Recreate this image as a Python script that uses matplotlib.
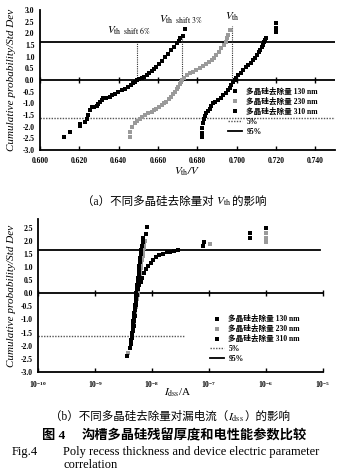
import matplotlib
matplotlib.use("Agg")
import matplotlib.pyplot as plt
from matplotlib.lines import Line2D
from matplotlib.ticker import FixedLocator, FormatStrFormatter, NullLocator

plt.rcParams['font.family'] = ['Liberation Serif', 'Noto Sans CJK SC']
plt.rcParams['mathtext.fontset'] = 'stix'

# ---- (a) Vth cumulative plot ----
vth_310_x = [0.6123, 0.6152, 0.6203, 0.6205, 0.6228, 0.6240, 0.6245, 0.6254, 0.6262, 0.6275,
             0.6288, 0.6297, 0.6305, 0.6313, 0.6321, 0.6338, 0.6355, 0.6368, 0.6380, 0.6398,
             0.6415, 0.6432, 0.6448, 0.6462, 0.6474, 0.6484, 0.6494, 0.6505, 0.6518, 0.6530,
             0.6542, 0.6555, 0.6568, 0.6580, 0.6592, 0.6605, 0.6620, 0.6635, 0.6650, 0.6668,
             0.6681, 0.6694, 0.6705, 0.6714, 0.6725, 0.6736]
vth_310_y = [-2.46, -2.22, -1.97, -1.90, -1.79, -1.65, -1.50, -1.29, -1.17, -1.15,
             -1.12, -1.02, -0.93, -0.86, -0.79, -0.76, -0.72, -0.66, -0.61, -0.52,
             -0.43, -0.37, -0.31, -0.22, -0.14, -0.07, 0.00, 0.05, 0.10, 0.15,
             0.21, 0.30, 0.40, 0.48, 0.57, 0.68, 0.82, 1.00, 1.12, 1.29,
             1.42, 1.57, 1.68, 1.79, 1.89, 2.17]

vth_230_x = [0.6457, 0.6460, 0.6470, 0.6482, 0.6495, 0.6508, 0.6520, 0.6533, 0.6550, 0.6567,
             0.6580, 0.6592, 0.6605, 0.6618, 0.6630, 0.6643, 0.6655, 0.6668, 0.6677, 0.6685,
             0.6694, 0.6702, 0.6710, 0.6719, 0.6723, 0.6734, 0.6745, 0.6762, 0.6778, 0.6795,
             0.6812, 0.6829, 0.6846, 0.6859, 0.6872, 0.6885, 0.6897, 0.6910, 0.6922, 0.6933,
             0.6944, 0.6950, 0.6956, 0.6965]
vth_230_y = [-2.43, -2.22, -2.00, -1.86, -1.75, -1.65, -1.57, -1.50, -1.43, -1.36,
             -1.29, -1.22, -1.15, -1.07, -1.00, -0.93, -0.83, -0.72, -0.61, -0.50,
             -0.40, -0.31, -0.19, -0.07, 0.00, 0.10, 0.21, 0.28, 0.36, 0.43,
             0.50, 0.60, 0.69, 0.78, 0.86, 0.96, 1.07, 1.21, 1.36, 1.50,
             1.65, 1.79, 1.93, 2.15]

vth_130_x = [0.6821, 0.6824, 0.6826, 0.6829, 0.6834, 0.6840, 0.6846, 0.6855, 0.6863, 0.6871,
             0.6880, 0.6892, 0.6905, 0.6918, 0.6931, 0.6944, 0.6956, 0.6965, 0.6973, 0.6982,
             0.6990, 0.6998, 0.7007, 0.7020, 0.7032, 0.7045, 0.7058, 0.7070, 0.7083, 0.7093,
             0.7103, 0.7112, 0.7120, 0.7127, 0.7134, 0.7138, 0.7142, 0.7147, 0.7202, 0.7202,
             0.7202]
vth_130_y = [-2.46, -2.25, -2.07, -1.86, -1.65, -1.54, -1.43, -1.33, -1.22, -1.11,
             -1.00, -0.93, -0.86, -0.75, -0.64, -0.54, -0.43, -0.32, -0.21, -0.10,
             0.00, 0.10, 0.21, 0.32, 0.43, 0.54, 0.64, 0.75, 0.86, 0.96,
             1.07, 1.18, 1.29, 1.40, 1.50, 1.61, 1.72, 1.80, 2.07, 2.22,
             2.46]

vth_cross = [0.6493, 0.6722, 0.6975]
vth_cross_top = [1.645, 1.90, 2.30]
vth_labels = [r'$V_{\rm th\ \ shift\ 6\%}$', r'$V_{\rm th\ \ shift\ 3\%}$', r'$V_{\rm th}$']
vth_label_x = [0.634, 0.6605, 0.6942]
vth_label_y = [2.12, 2.58, 2.72]

a_xticks = [0.600, 0.620, 0.640, 0.660, 0.680, 0.700, 0.720, 0.740]
yticks = [-3.0, -2.5, -2.0, -1.5, -1.0, -0.5, 0.0, 0.5, 1.0, 1.5, 2.0, 2.5, 3.0]

# ---- (b) Idss cumulative plot ----
idss_130_x = [3.62e-9, 4.09e-9, 4.26e-9, 4.30e-9, 4.40e-9, 4.45e-9, 4.55e-9, 4.62e-9, 4.70e-9, 4.81e-9,
              4.90e-9, 5.00e-9, 5.08e-9, 5.15e-9, 5.21e-9, 5.30e-9, 5.40e-9, 5.50e-9, 5.60e-9, 5.70e-9,
              5.80e-9, 5.90e-9, 6.00e-9, 6.12e-9, 6.25e-9, 6.38e-9, 6.50e-9, 6.64e-9, 6.80e-9, 7.00e-9,
              7.80e-9, 8.00e-9, 9.9e-7]
idss_130_y = [-2.40, -2.08, -1.95, -1.80, -1.65, -1.50, -1.35, -1.20, -1.05, -0.90,
              -0.75, -0.60, -0.45, -0.30, -0.15, 0.00, 0.15, 0.30, 0.45, 0.60,
              0.75, 0.90, 1.05, 1.20, 1.35, 1.50, 1.65, 1.80, 1.95, 2.10,
              2.26, 2.55, 2.51]

idss_230_x = [3.85e-9, 4.20e-9, 4.40e-9, 4.50e-9, 4.62e-9, 4.70e-9, 4.81e-9, 4.90e-9, 5.00e-9, 5.10e-9,
              5.21e-9, 5.30e-9, 5.43e-9, 5.55e-9, 5.65e-9, 5.75e-9, 5.89e-9, 6.00e-9, 6.12e-9, 6.25e-9,
              6.38e-9, 6.50e-9, 6.64e-9, 6.80e-9, 6.92e-9, 7.10e-9, 7.21e-9, 7.50e-9, 1.04e-7, 9.9e-7,
              9.9e-7, 9.9e-7]
idss_230_y = [-2.30, -1.90, -1.72, -1.58, -1.42, -1.28, -1.12, -0.98, -0.82, -0.68,
              -0.52, -0.38, -0.22, -0.08, 0.08, 0.22, 0.38, 0.52, 0.68, 0.82,
              0.98, 1.12, 1.28, 1.42, 1.58, 1.72, 1.88, 2.02, 1.88, 2.30,
              2.13, 1.98]

idss_310_x = [4.09e-9, 4.43e-9, 4.62e-9, 4.75e-9, 4.85e-9, 4.95e-9, 5.05e-9, 5.15e-9, 5.30e-9, 5.43e-9,
              5.60e-9, 5.90e-9, 6.30e-9, 6.70e-9, 7.10e-9, 7.70e-9, 8.50e-9, 9.40e-9, 1.05e-8, 1.18e-8,
              1.35e-8, 1.57e-8, 1.80e-8, 2.10e-8, 2.40e-8, 2.90e-8, 8.0e-8, 8.3e-8, 5.2e-7, 5.2e-7]
idss_310_y = [-2.08, -1.70, -1.45, -1.25, -1.05, -0.85, -0.65, -0.45, -0.25, -0.05,
              0.15, 0.30, 0.45, 0.60, 0.78, 0.92, 1.05, 1.18, 1.28, 1.38,
              1.45, 1.52, 1.57, 1.60, 1.63, 1.66, 1.82, 1.95, 2.11, 2.30]

b_xticks = [1e-10, 1e-9, 1e-8, 1e-7, 1e-6, 1e-5]

legend_labels = ['多晶硅去除量 130 nm', '多晶硅去除量 230 nm', '多晶硅去除量 310 nm', '5%', '95%']
z95 = 1.645
z05 = -1.645

gray = '#9a9a9a'
ms = 2.9

fig = plt.figure(figsize=(3.4, 4.75), dpi=100)


def style_axes(ax, xticks):
    for s in ['top', 'right']:
        ax.spines[s].set_visible(False)
    for s in ['left', 'bottom']:
        ax.spines[s].set_linewidth(1.3)
    ax.yaxis.set_major_locator(FixedLocator(yticks))
    ax.yaxis.set_major_formatter(FormatStrFormatter('%.1f'))
    ax.tick_params(axis='y', length=0, pad=4, labelsize=5.5)
    ax.tick_params(axis='x', direction='in', length=3, width=1, pad=5, labelsize=5.5)
    for lab in ax.get_yticklabels() + ax.get_xticklabels():
        lab.set_fontweight('bold')
    ax.plot(xticks, [0] * len(xticks), ls='none', marker='|', ms=4, mew=1, color='black',
            clip_on=False, zorder=4)


# ---------- panel (a) ----------
ax1 = fig.add_axes([0.1176, 0.684, 0.868, 0.295])
ax1.set_xlim(0.600, 0.750)
ax1.set_ylim(-3.0, 3.0)
ax1.xaxis.set_major_locator(FixedLocator(a_xticks))
ax1.xaxis.set_major_formatter(FormatStrFormatter('%.3f'))

ax1.axhline(0, color='black', lw=1.3, zorder=2)
ax1.axhline(z95, color='black', lw=1.3, zorder=2)
ax1.axhline(z05, color='#555555', lw=1.0, ls=(0, (1, 1)), zorder=2)
for xc, yt in zip(vth_cross, vth_cross_top):
    ax1.plot([xc, xc], [0, yt], color='#333333', lw=0.8, ls=(0, (1, 1)), zorder=2)

ax1.plot(vth_130_x, vth_130_y, ls='none', marker='s', ms=ms, mew=0, color='black', zorder=3)
ax1.plot(vth_230_x, vth_230_y, ls='none', marker='s', ms=ms, mew=0, color=gray, zorder=3)
ax1.plot(vth_310_x, vth_310_y, ls='none', marker='s', ms=ms, mew=0, color='black', zorder=3)

for s, x, y in zip(vth_labels, vth_label_x, vth_label_y):
    ax1.text(x, y, s, fontsize=8, ha='left', va='center')

style_axes(ax1, a_xticks)
fig.text(187 / 340, 1 - 172 / 475, r'$V_{\rm th}$/$V$', fontsize=8, style='italic',
         ha='center', va='center', weight='bold')


def make_legend(ax, anchor):
    handles = [
        Line2D([], [], ls='none', marker='s', ms=ms, mew=0, color='black'),
        Line2D([], [], ls='none', marker='s', ms=ms, mew=0, color=gray),
        Line2D([], [], ls='none', marker='s', ms=ms, mew=0, color='black'),
        Line2D([], [], color='#555555', lw=1.0, ls=(0, (1, 1))),
        Line2D([], [], color='black', lw=1.3),
    ]
    leg = ax.legend(handles, legend_labels, loc='upper left', bbox_to_anchor=anchor,
                    frameon=False, prop={'size': 5.5, 'weight': 'bold'},
                    handlelength=1.8, handletextpad=0.6, labelspacing=0.25,
                    borderpad=0, borderaxespad=0)
    return leg


make_legend(ax1, (0.637, 0.445))

# ---------- panel (b) ----------
ax2 = fig.add_axes([0.1126, 0.2175, 0.8365, 0.3217])
ax2.set_xscale('log')
ax2.set_xlim(1e-10, 1e-5)
ax2.set_ylim(-3.0, 2.85)
ax2.xaxis.set_major_locator(FixedLocator(b_xticks))
ax2.xaxis.set_minor_locator(NullLocator())

ax2.axhline(0, color='black', lw=1.3, zorder=2, xmax=1.0)
ax2.axhline(z95, color='black', lw=1.3, zorder=2, xmax=0.99)
ax2.axhline(z05, color='#555555', lw=1.0, ls=(0, (1, 1)), zorder=2, xmax=0.516)

ax2.plot(idss_230_x, idss_230_y, ls='none', marker='s', ms=ms, mew=0, color=gray, zorder=3)
ax2.plot(idss_130_x, idss_130_y, ls='none', marker='s', ms=ms, mew=0, color='black', zorder=3)
ax2.plot(idss_310_x, idss_310_y, ls='none', marker='s', ms=ms, mew=0, color='black', zorder=3)

style_axes(ax2, b_xticks)
ax2.set_yticks([t for t in yticks if t <= 2.5])
make_legend(ax2, (0.604, 0.37))
fig.text(178 / 340, 1 - 393 / 475, r'$I_{\rm dss}$/A', fontsize=8, ha='center', va='center')

# y labels
for yc in [80, 296]:
    fig.text(12 / 340, 1 - yc / 475, 'Cumulative probability/Std Dev', rotation=90,
             fontsize=8, style='italic', ha='center', va='center')


# captions: chain text pieces on a shared baseline
def chain(parts, x, y, **kw):
    r = fig.canvas.get_renderer()
    for s in parts:
        t = fig.text(x, y, s, ha='left', va='baseline', **kw)
        bb = t.get_window_extent(renderer=r)
        x = fig.transFigure.inverted().transform((bb.x1, bb.y0))[0]


chain(['（a）不同多晶硅去除量对 ', r'$V_{\rm th}$', '的影响'], 82 / 340, 1 - 205 / 475, fontsize=8.3)
chain(['（b）不同多晶硅去除量对漏电流（', r'$I_{\rm dss}$', '）的影响'], 50 / 340, 1 - 420 / 475,
      fontsize=8.3)
fig.text(42 / 340, 1 - 439 / 475, '图 4', fontsize=9.5, weight='bold', va='baseline')
fig.text(82 / 340, 1 - 439 / 475, '沟槽多晶硅残留厚度和电性能参数比较', fontsize=9.5,
         weight='bold', va='baseline')
fig.text(12 / 340, 1 - 455 / 475, 'Fig.4', fontsize=9, va='baseline')
fig.text(63 / 340, 1 - 455 / 475, 'Poly recess thickness and device electric parameter',
         fontsize=9, va='baseline')
fig.text(63 / 340, 1 - 468 / 475, 'correlation', fontsize=9, va='baseline')

fig.savefig('out.png', dpi=100)
